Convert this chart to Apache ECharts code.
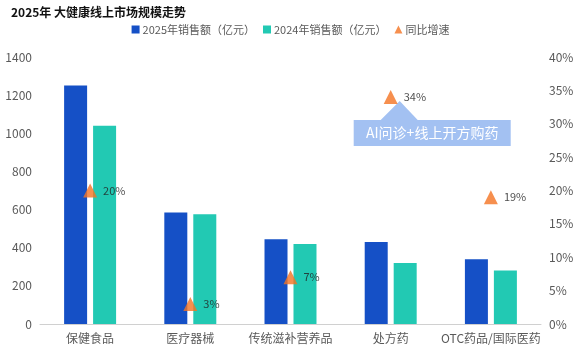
<!DOCTYPE html>
<html>
<head>
<meta charset="utf-8">
<script src="https://cdn.jsdelivr.net/npm/echarts@6/dist/echarts.min.js"></script>
<style>
html, body { margin: 0; padding: 0; background: #fff; }
#main { width: 581px; height: 351px; }
</style>
</head>
<body>
<div id="main"></div>
<script>
// 数据
var categories = ['保健食品', '医疗器械', '传统滋补营养品', '处方药', 'OTC药品/国际医药'];
var sales2025 = [1250, 585, 445, 430, 340];
var sales2024 = [1040, 575, 420, 320, 280];
var growth = [20, 3, 7, 34, 19];
var noteIndex = 3;
var noteText = 'AI问诊+线上开方购药';

var chart = echarts.init(document.getElementById('main'));
var font = '"Microsoft YaHei", "Noto Sans CJK SC", sans-serif';

var option = {
    textStyle: { fontFamily: font },
    title: {
        text: '2025年 大健康线上市场规模走势',
        left: 6,
        top: 1,
        textStyle: { fontSize: 12, fontWeight: 'bold', color: '#111', fontFamily: font }
    },
    legend: {
        top: 19,
        left: 'center',
        itemWidth: 8,
        itemHeight: 8,
        itemGap: 8,
        textStyle: { fontSize: 11, color: '#595959', fontFamily: font, padding: [0, 0, 0, -2] },
        data: [
            { name: '2025年销售额（亿元）', icon: 'rect' },
            { name: '2024年销售额（亿元）', icon: 'rect' },
            { name: '同比增速', icon: 'triangle' }
        ]
    },
    grid: { left: 40, right: 40, top: 57, bottom: 27 },
    xAxis: {
        type: 'category',
        data: categories,
        axisTick: { show: false },
        axisLine: { lineStyle: { color: '#d0d0d0' } },
        axisLabel: { color: '#595959', fontSize: 12, margin: 8, interval: 0 }
    },
    yAxis: [{
        type: 'value',
        min: 0, max: 1400, interval: 200,
        splitLine: { show: false },
        axisLabel: { color: '#595959', fontSize: 12, formatter: function (v) { return String(v); } }
    }, {
        type: 'value',
        min: 0, max: 40, interval: 5,
        splitLine: { show: false },
        axisLabel: { color: '#595959', fontSize: 12, formatter: '{value}%' }
    }],
    series: [{
        name: '2025年销售额（亿元）',
        type: 'bar',
        barWidth: 23,
        barGap: '26%',
        itemStyle: { color: '#1550C6' },
        data: sales2025
    }, {
        name: '2024年销售额（亿元）',
        type: 'bar',
        barWidth: 23,
        itemStyle: { color: '#22C9B3' },
        data: sales2024
    }, {
        name: '同比增速',
        type: 'scatter',
        yAxisIndex: 1,
        symbol: 'triangle',
        symbolSize: 14,
        itemStyle: { color: '#F47322' },
        label: {
            show: true,
            position: 'right',
            distance: 6,
            color: '#222',
            fontSize: 11,
            formatter: '{c}%'
        },
        data: growth
    }]
};

chart.setOption(option);

// 标注框
var p = chart.convertToPixel({ xAxisIndex: 0, yAxisIndex: 1 }, [noteIndex, growth[noteIndex]]);
var boxTop = p[1] + 23;
chart.setOption({
    graphic: [{
        type: 'polygon',
        shape: { points: [[p[0] + 9, p[1] + 4], [p[0] - 10, boxTop], [p[0] + 27, boxTop]] },
        style: { fill: '#A3C1F2' }
    }, {
        type: 'rect',
        shape: { x: p[0] - 37, y: boxTop, width: 157, height: 26 },
        style: { fill: '#A3C1F2' }
    }, {
        type: 'text',
        x: p[0] + 41.5,
        y: boxTop + 13,
        style: {
            text: noteText,
            fill: '#fff',
            fontSize: 14,
            fontFamily: font,
            align: 'center',
            verticalAlign: 'middle'
        }
    }]
});
</script>
</body>
</html>
